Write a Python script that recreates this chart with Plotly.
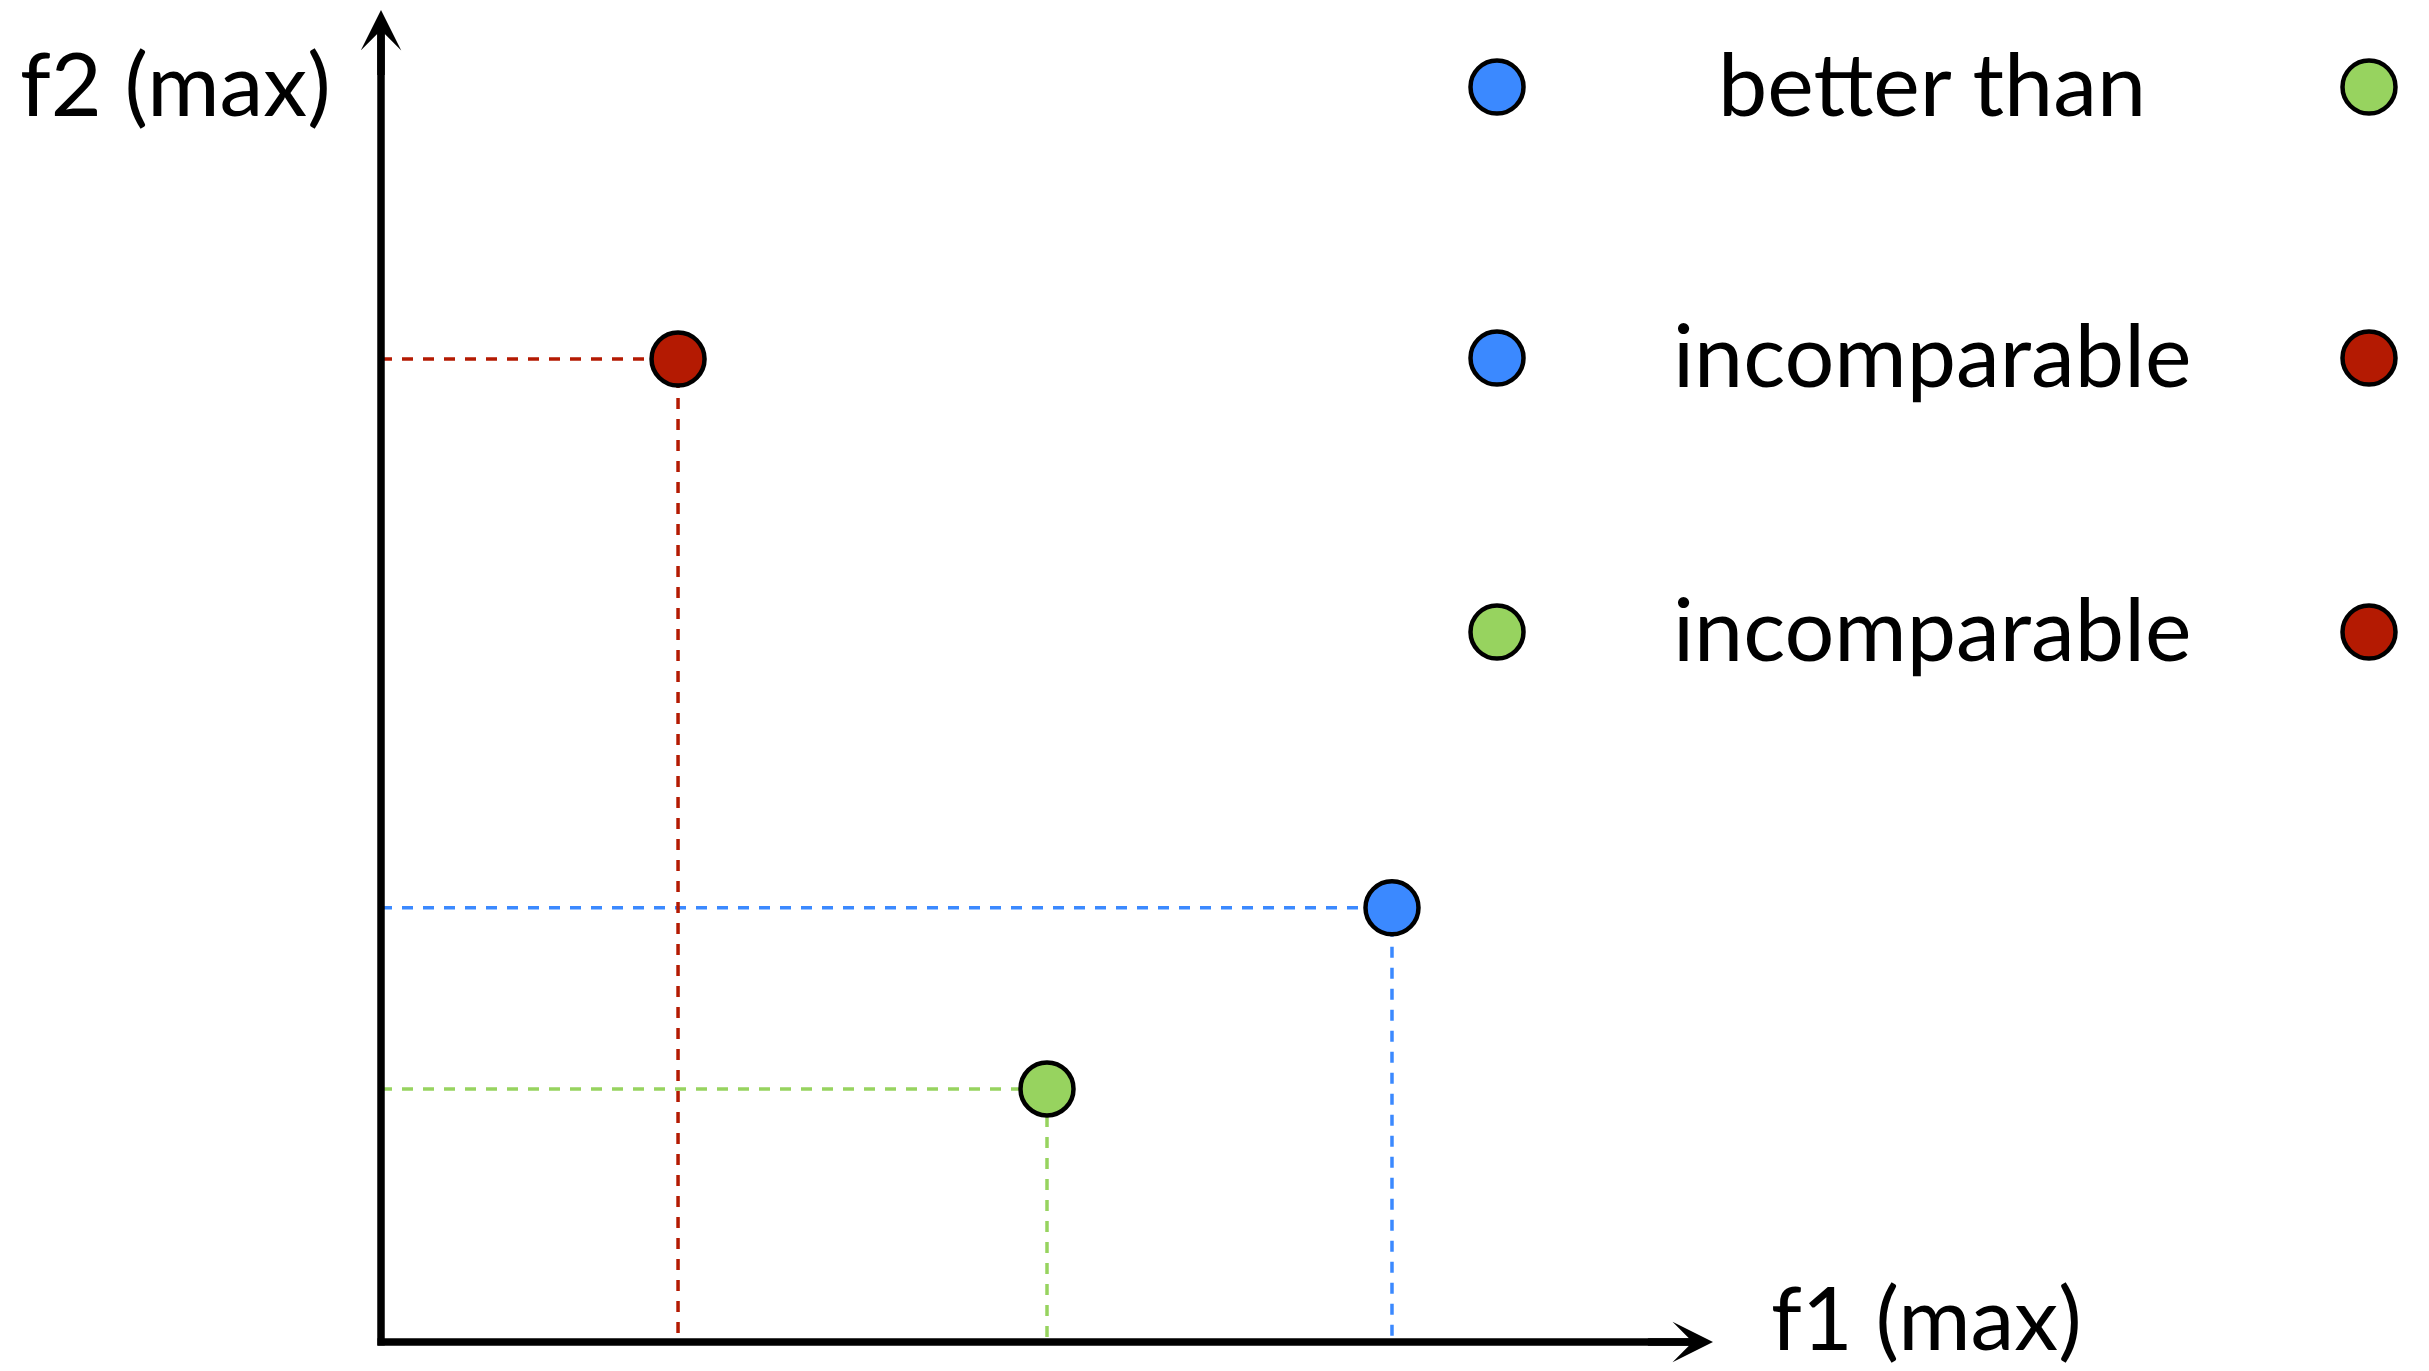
import plotly.graph_objects as go

# ---- data ----
point_names = ["blue", "red", "green"]
f1_values = [7.59, 2.23, 5.00]
f2_values = [3.26, 7.38, 1.90]
point_colors = ["#3B89FF", "#B41A02", "#97D35F"]

relation_left = ["blue", "blue", "green"]
relation_text = ["better than", "incomparable", "incomparable"]
relation_right = ["green", "red", "red"]

x_label = "f1 (max)"
y_label = "f2 (max)"

# ---- layout constants ----
W, H = 2429, 1371
PX_PER_UNIT = 133.2
X0_PX, Y0_PX = 381, 1342
x_range = [-X0_PX / PX_PER_UNIT, (W - X0_PX) / PX_PER_UNIT]
y_range = [-(H - Y0_PX) / PX_PER_UNIT, Y0_PX / PX_PER_UNIT]
AXIS_LEN = 10.0
FONT = "Lato"
FS = 88
MARKER_SIZE = 53
MARKER_LINE = 4.5
AXIS_W = 7.5

color_of = dict(zip(point_names, point_colors))

fig = go.Figure()

# dashed projection lines
for name, fx, fy, c in zip(point_names, f1_values, f2_values, point_colors):
    fig.add_trace(go.Scatter(
        x=[0, fx, fx], y=[fy, fy, 0], mode="lines",
        line=dict(color=c, width=3.5, dash="11px,10px"),
        hoverinfo="skip", showlegend=False))

# points
fig.add_trace(go.Scatter(
    x=f1_values, y=f2_values, mode="markers",
    marker=dict(size=MARKER_SIZE, color=point_colors,
                line=dict(color="black", width=MARKER_LINE)),
    text=point_names, showlegend=False))

shapes = []
# axis lines
ext = 3.5 / PX_PER_UNIT
shapes.append(dict(type="line", xref="x", yref="y", x0=-ext, y0=0, x1=AXIS_LEN - 0.15, y1=0,
                   line=dict(color="black", width=AXIS_W)))
shapes.append(dict(type="line", xref="x", yref="y", x0=0, y0=-ext, x1=0, y1=AXIS_LEN - 0.15,
                   line=dict(color="black", width=AXIS_W)))

annotations = []
# arrow heads
annotations.append(dict(x=AXIS_LEN, y=0, ax=AXIS_LEN - 0.5, ay=0, xref="x", yref="y",
                        axref="x", ayref="y", text="", showarrow=True,
                        arrowhead=3, arrowwidth=AXIS_W, arrowsize=0.9, arrowcolor="black"))
annotations.append(dict(x=0, y=AXIS_LEN, ax=0, ay=AXIS_LEN - 0.5, xref="x", yref="y",
                        axref="x", ayref="y", text="", showarrow=True,
                        arrowhead=3, arrowwidth=AXIS_W, arrowsize=0.9, arrowcolor="black"))

# axis labels
annotations.append(dict(x=175 / W, y=1 - 82 / H, xref="paper", yref="paper",
                        text=y_label, showarrow=False, xanchor="center", yanchor="middle",
                        font=dict(family=FONT, size=FS, color="black")))
annotations.append(dict(x=1926 / W, y=0, xref="paper", yref="paper",
                        text=x_label, showarrow=False, xanchor="center", yanchor="bottom",
                        font=dict(family=FONT, size=FS, color="black")))

# relation key
row_y_px = [87, 358, 632]
left_x_px = 1497
right_x_px = 2369
text_x_px = 1932
for ry, lname, txt, rname in zip(row_y_px, relation_left, relation_text, relation_right):
    yp = 1 - ry / H
    annotations.append(dict(x=text_x_px / W, y=1 - (ry - 5) / H, xref="paper", yref="paper",
                            text=txt, showarrow=False, xanchor="center", yanchor="middle",
                            font=dict(family=FONT, size=FS, color="black")))
    for cx, nm in ((left_x_px, lname), (right_x_px, rname)):
        r = MARKER_SIZE / 2
        shapes.append(dict(type="circle", xref="paper", yref="paper",
                           xsizemode="pixel", ysizemode="pixel",
                           xanchor=cx / W, yanchor=yp,
                           x0=-r, x1=r, y0=-r, y1=r,
                           fillcolor=color_of[nm],
                           line=dict(color="black", width=MARKER_LINE)))

fig.update_layout(
    width=W, height=H,
    margin=dict(l=0, r=0, t=0, b=0),
    paper_bgcolor="white", plot_bgcolor="white",
    xaxis=dict(range=x_range, visible=False, fixedrange=True),
    yaxis=dict(range=y_range, visible=False, fixedrange=True),
    annotations=annotations, shapes=shapes,
    showlegend=False,
)

fig.write_html("out.html", config={"displayModeBar": False},
               post_script="document.body.style.margin='0';document.body.style.overflow='hidden';")
